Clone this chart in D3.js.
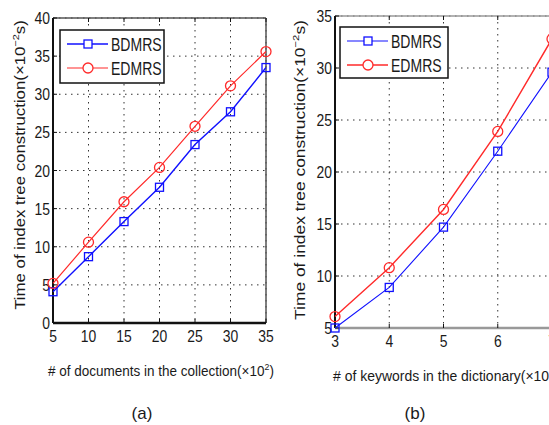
<!DOCTYPE html>
<html>
<head>
<meta charset="utf-8">
<script src="https://cdn.jsdelivr.net/npm/d3@7"></script>
<style>
  body { margin: 0; background: #fff; }
  svg { display: block; }
  text { font-family: "Liberation Sans", Arial, sans-serif; fill: #1a1a1a; }
</style>
</head>
<body>
<div id="main_div"></div>
<script>
// (a) documents in collection (x10^2)
const docsX = [5, 10, 15, 20, 25, 30, 35];
const docsBDMRS = [4.1, 8.7, 13.3, 17.8, 23.4, 27.7, 33.5];
const docsEDMRS = [5.2, 10.6, 15.9, 20.4, 25.8, 31.1, 35.6];
const docsYTicks = [0, 5, 10, 15, 20, 25, 30, 35, 40];

// (b) keywords in dictionary (x10^3)
const kwX = [3, 4, 5, 6, 7];
const kwBDMRS = [5.0, 8.9, 14.7, 22.0, 29.6];
const kwEDMRS = [6.1, 10.8, 16.4, 23.9, 32.8];
const kwYTicks = [5, 10, 15, 20, 25, 30, 35];

const seriesNames = ["BDMRS", "EDMRS"];
const seriesColors = ["#1010ff", "#ff2a2a"];

const svg = d3.select("#main_div").append("svg")
    .attr("width", 549).attr("height", 425);

// narrow looking text: draw, then squeeze horizontally
function narrow_text(parent, x, y, str, size, anchor, sx) {
    return parent.append("text")
        .attr("transform", `translate(${x},${y}) scale(${sx},1)`)
        .attr("text-anchor", anchor).attr("font-size", size)
        .text(str);
}

// label with superscript, scaled to a given width
function fit_label(parent, parts, size, width, transform) {
    const t = parent.append("text").attr("font-size", size);
    t.append("tspan").text(parts[0]);
    t.append("tspan").attr("font-size", size * 0.65).attr("dy", -6).text(parts[1]);
    t.append("tspan").attr("dy", 6).text(parts[2]);
    const w = t.node().getComputedTextLength();
    t.attr("transform", transform(width / w));
    return t;
}

function draw_panel(cfg) {
    const g = svg.append("g");
    const x = d3.scaleLinear().domain(cfg.xDomain).range([cfg.left, cfg.right]);
    const y = d3.scaleLinear().domain(cfg.yDomain).range([cfg.bottom, cfg.top]);

    // grid
    cfg.xTicks.slice(1).forEach(t => {
        g.append("line")
            .attr("x1", x(t)).attr("x2", x(t))
            .attr("y1", cfg.top).attr("y2", cfg.bottom)
            .attr("stroke", "#333").attr("stroke-width", 1)
            .attr("stroke-dasharray", "1.5,4.5");
    });
    cfg.yTicks.slice(1).forEach(t => {
        g.append("line")
            .attr("x1", cfg.left).attr("x2", cfg.right)
            .attr("y1", y(t)).attr("y2", y(t))
            .attr("stroke", "#333").attr("stroke-width", 1)
            .attr("stroke-dasharray", "1.5,4.5");
    });

    // frame
    g.append("line").attr("x1", cfg.left).attr("x2", cfg.right)
        .attr("y1", cfg.top).attr("y2", cfg.top)
        .attr("stroke", cfg.frameColor).attr("stroke-width", 1.5);
    g.append("line").attr("x1", cfg.right).attr("x2", cfg.right)
        .attr("y1", cfg.top).attr("y2", cfg.bottom)
        .attr("stroke", cfg.frameColor).attr("stroke-width", 1.5);
    g.append("line").attr("x1", cfg.left).attr("x2", cfg.left)
        .attr("y1", cfg.top).attr("y2", cfg.bottom)
        .attr("stroke", "#111").attr("stroke-width", 2);
    g.append("line").attr("x1", cfg.left).attr("x2", cfg.right)
        .attr("y1", cfg.bottom).attr("y2", cfg.bottom)
        .attr("stroke", cfg.bottomColor).attr("stroke-width", 2.5);

    // tick marks
    cfg.xTicks.forEach(t => {
        g.append("line").attr("x1", x(t)).attr("x2", x(t))
            .attr("y1", cfg.bottom).attr("y2", cfg.bottom - 4)
            .attr("stroke", "#111");
        g.append("line").attr("x1", x(t)).attr("x2", x(t))
            .attr("y1", cfg.top).attr("y2", cfg.top + 4)
            .attr("stroke", "#111");
    });
    cfg.yTicks.forEach(t => {
        g.append("line").attr("x1", cfg.left).attr("x2", cfg.left + 4)
            .attr("y1", y(t)).attr("y2", y(t))
            .attr("stroke", "#111");
    });

    // tick labels
    cfg.xTicks.forEach(t => narrow_text(g, x(t), cfg.bottom + 19, t, 17, "middle", 0.82));
    cfg.yTicks.forEach(t => narrow_text(g, cfg.left - 3, y(t) + 6, t, 17, "end", 0.82));

    // axis titles
    fit_label(g, [cfg.xLabel + "(×10", cfg.xExp, ")"], 15, 226,
        s => `translate(${cfg.xLabelX},${cfg.bottom + 53}) scale(${s},1)`);
    const yl = fit_label(g, ["Time of index tree construction(×10", "−2", "s)"], 15, cfg.yLabelLen,
        s => `translate(${cfg.yLabelX},${cfg.yLabelMid}) rotate(-90) scale(${s},1)`);
    yl.attr("text-anchor", "middle");

    // lines
    const line = d3.line().x(d => x(d[0])).y(d => y(d[1]));
    cfg.series.forEach((vals, i) => {
        const pts = cfg.xValues.map((xv, j) => [xv, vals[j]]);
        g.append("path").datum(pts)
            .attr("fill", "none").attr("stroke", seriesColors[i])
            .attr("stroke-width", cfg.lineWidth[i]).attr("d", line);
        pts.forEach(p => {
            if (i === 0) {
                g.append("rect")
                    .attr("x", x(p[0]) - 4).attr("y", y(p[1]) - 4)
                    .attr("width", 8).attr("height", 8)
                    .attr("fill", "none").attr("stroke", seriesColors[i])
                    .attr("stroke-width", 1.3);
            } else {
                g.append("circle")
                    .attr("cx", x(p[0])).attr("cy", y(p[1])).attr("r", 5)
                    .attr("fill", "none").attr("stroke", seriesColors[i])
                    .attr("stroke-width", 1.3);
            }
        });
    });

    // legend
    const L = cfg.legend;
    g.append("rect").attr("x", L.x).attr("y", L.y)
        .attr("width", L.w).attr("height", L.h)
        .attr("fill", "#fff").attr("stroke", "#111").attr("stroke-width", 1.5);
    seriesNames.forEach((name, i) => {
        const ly = L.y + 14 + i * 24;
        g.append("line").attr("x1", L.x + 7).attr("x2", L.x + 48)
            .attr("y1", ly).attr("y2", ly)
            .attr("stroke", seriesColors[i]).attr("stroke-width", cfg.lineWidth[i]);
        if (i === 0) {
            g.append("rect").attr("x", L.x + 24).attr("y", ly - 4)
                .attr("width", 8).attr("height", 8)
                .attr("fill", "#fff").attr("stroke", seriesColors[i]).attr("stroke-width", 1.3);
        } else {
            g.append("circle").attr("cx", L.x + 28).attr("cy", ly).attr("r", 5)
                .attr("fill", "#fff").attr("stroke", seriesColors[i]).attr("stroke-width", 1.3);
        }
        narrow_text(g, L.x + 51, ly + 7, name, 18, "start", 0.78);
    });

    // caption
    g.append("text").attr("x", cfg.captionX).attr("y", 419)
        .attr("text-anchor", "middle").attr("font-size", 17)
        .text(cfg.caption);
}

draw_panel({
    left: 53, right: 266, top: 18, bottom: 323,
    xDomain: [5, 35], yDomain: [0, 40],
    xTicks: docsX, yTicks: docsYTicks, xValues: docsX,
    series: [docsBDMRS, docsEDMRS], lineWidth: [1.4, 1.2],
    frameColor: "#555", bottomColor: "#111",
    xLabel: "# of documents in the collection", xExp: "2",
    xLabelX: 48, yLabelX: 25, yLabelMid: 165, yLabelLen: 290,
    legend: { x: 60, y: 30, w: 104, h: 53 },
    caption: "(a)", captionX: 142
});

draw_panel({
    left: 335, right: 552, top: 16, bottom: 328,
    xDomain: [3, 7], yDomain: [5, 35],
    xTicks: kwX, yTicks: kwYTicks, xValues: kwX,
    series: [kwBDMRS, kwEDMRS], lineWidth: [1.1, 1.4],
    frameColor: "#999", bottomColor: "#999",
    xLabel: "# of keywords in the dictionary", xExp: "3",
    xLabelX: 333, yLabelX: 305, yLabelMid: 170, yLabelLen: 300,
    legend: { x: 340, y: 27, w: 108, h: 51 },
    caption: "(b)", captionX: 415
});
</script>
</body>
</html>
